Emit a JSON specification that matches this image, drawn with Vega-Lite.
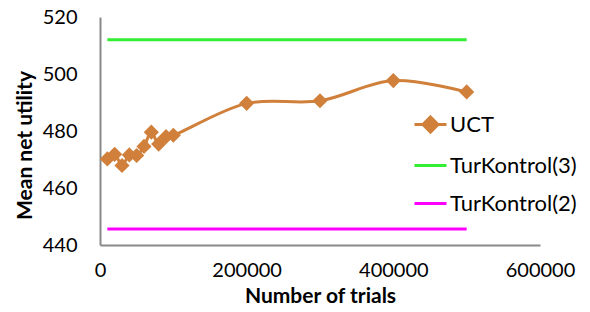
{
  "$schema": "https://vega.github.io/schema/vega-lite/v6.json",
  "width": 440,
  "height": 228,
  "padding": {"left": 100, "top": 17, "right": 50, "bottom": 67},
  "autosize": {"type": "none"},
  "background": "white",
  "config": {
    "font": "Lato",
    "view": {"stroke": null},
    "axis": {"grid": false, "ticks": false, "labelFlush": false, "domainColor": "#898989", "domainWidth": 2, "labelFont": "Lato", "labelFontSize": 20, "labelColor": "#000", "titleFont": "Lato", "titleFontSize": 21, "titleFontWeight": "bold", "titleColor": "#000"}
  },
  "data": {"values": [
    {"series": "UCT", "trials": 10000, "utility": 470.2},
    {"series": "UCT", "trials": 20000, "utility": 471.8},
    {"series": "UCT", "trials": 30000, "utility": 467.9},
    {"series": "UCT", "trials": 40000, "utility": 471.6},
    {"series": "UCT", "trials": 50000, "utility": 471.4},
    {"series": "UCT", "trials": 60000, "utility": 474.6},
    {"series": "UCT", "trials": 70000, "utility": 479.6},
    {"series": "UCT", "trials": 80000, "utility": 475.4},
    {"series": "UCT", "trials": 90000, "utility": 478.0},
    {"series": "UCT", "trials": 100000, "utility": 478.5},
    {"series": "UCT", "trials": 200000, "utility": 489.7},
    {"series": "UCT", "trials": 300000, "utility": 490.6},
    {"series": "UCT", "trials": 400000, "utility": 497.7},
    {"series": "UCT", "trials": 500000, "utility": 493.7},
    {"series": "TurKontrol(3)", "trials": 10000, "utility": 512},
    {"series": "TurKontrol(3)", "trials": 500000, "utility": 512},
    {"series": "TurKontrol(2)", "trials": 10000, "utility": 445.6},
    {"series": "TurKontrol(2)", "trials": 500000, "utility": 445.6}
  ]},
  "encoding": {
    "x": {"field": "trials", "type": "quantitative", "title": "Number of trials",
      "scale": {"domain": [0, 600000], "nice": false},
      "axis": {"values": [0, 200000, 400000, 600000], "format": "d", "labelPadding": 15, "titleY": 51, "titleBaseline": "middle"}},
    "y": {"field": "utility", "type": "quantitative", "title": "Mean net utility",
      "scale": {"domain": [440, 520], "nice": false, "zero": false},
      "axis": {"values": [440, 460, 480, 500, 520], "labelPadding": 23, "titleX": -75, "titleY": 128, "titleAngle": 270, "titleAlign": "center", "titleBaseline": "middle"}},
    "color": {"field": "series", "type": "nominal",
      "scale": {"domain": ["UCT", "TurKontrol(3)", "TurKontrol(2)"], "range": ["#D0803A", "#33EE33", "#FF00FF"]},
      "legend": {"title": null, "orient": "none", "legendX": 313, "legendY": 90, "padding": 0,
        "labelFont": "Lato", "labelFontSize": 22, "labelColor": "#000", "labelOffset": 2,
        "symbolSize": 1024, "symbolStrokeWidth": 3, "rowPadding": 9,
        "encode": {"symbols": {"update": {
          "shape": {"signal": "datum.value === 'UCT' ? 'M-1,0H1M0,-0.47L0.47,0L0,0.47L-0.47,0Z' : 'M-1,0H1'"},
          "fill": {"signal": "datum.value === 'UCT' ? '#D0803A' : 'transparent'"},
          "fillOpacity": {"value": 1}
        }}}}
    }
  },
  "layer": [
    {"transform": [{"filter": "datum.series === 'UCT'"}],
     "mark": {"type": "line", "interpolate": "catmull-rom", "strokeWidth": 3, "point": {"shape": "diamond", "size": 230, "filled": true, "opacity": 1}}},
    {"transform": [{"filter": "datum.series !== 'UCT'"}],
     "mark": {"type": "line", "strokeWidth": 3}}
  ]
}
